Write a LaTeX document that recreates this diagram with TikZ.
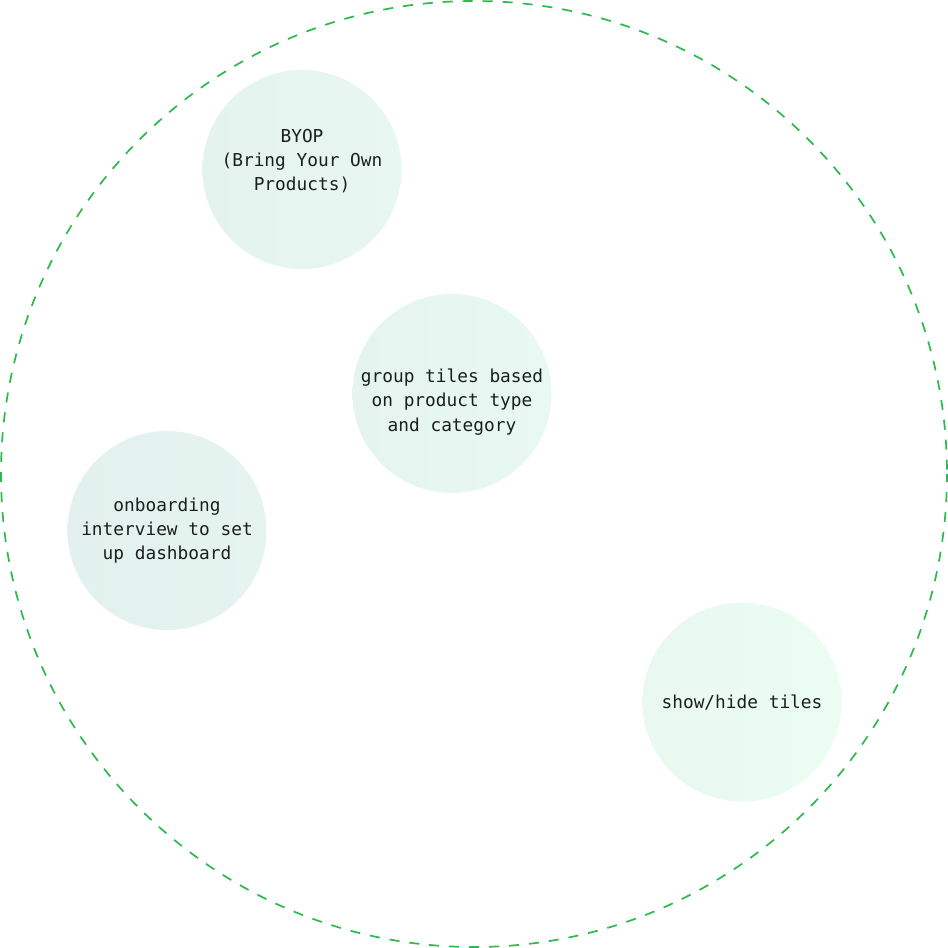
\documentclass[tikz,border=0pt]{standalone}
\usepackage{fontspec}
\newfontfamily\monofnt{DejaVu Sans Mono}
\definecolor{ringgreen}{HTML}{2CBA4C}
\definecolor{txt}{HTML}{1A201C}
\begin{document}
\begin{tikzpicture}[x=1pt,y=-1pt,
  bubble/.style={circle,minimum size=199pt,inner sep=0pt,draw=none,shading=axis,shading angle=90},
  lbl/.style={font=\monofnt\fontsize{17.8}{24.3}\selectfont,text=txt,align=center,inner sep=0pt}]
\useasboundingbox (0,0) rectangle (948,948);
\fill[white] (0,0) rectangle (948,948);
\draw[ringgreen,line width=1.7pt,dash pattern=on 10pt off 10pt,dash phase=2pt] (474,474) circle[radius=473];
\node[bubble,left color={rgb,255:red,228;green,243;blue,238},right color={rgb,255:red,232;green,247;blue,241}] (byop) at (302,169.5) {};
\node[bubble,left color={rgb,255:red,229;green,244;blue,239},right color={rgb,255:red,232;green,248;blue,242}] (group) at (452,393.5) {};
\node[bubble,left color={rgb,255:red,227;green,241;blue,238},right color={rgb,255:red,230;green,244;blue,240}] (onb) at (167,530.5) {};
\node[bubble,left color={rgb,255:red,233;green,248;blue,240},right color={rgb,255:red,235;green,253;blue,243}] (show) at (742,702) {};
\node[lbl] (byoptext) at (302,161) {BYOP\\(Bring Your Own\\Products)};
\node[lbl] (grouptext) at (452,402) {group tiles based\\on product type\\and category};
\node[lbl] (onbtext) at (167,530.5) {onboarding\\interview to set\\up dashboard};
\node[lbl] (showtext) at (742,703) {show/hide tiles};
\end{tikzpicture}
\end{document}
